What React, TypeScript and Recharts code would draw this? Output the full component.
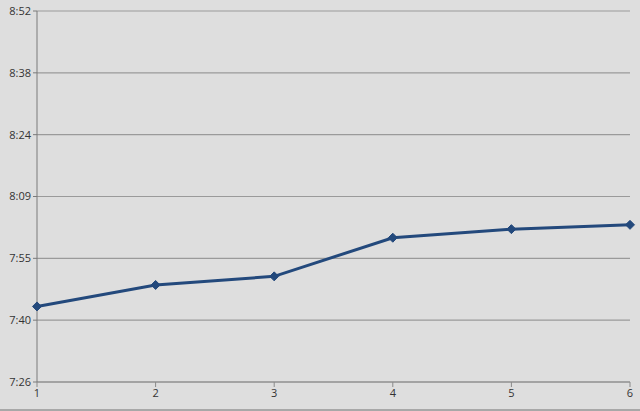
import React from 'react'
import { LineChart, Line, XAxis, YAxis, CartesianGrid } from 'recharts'

// x categories (run number) and times, stored as minutes after midnight
const runs = [1, 2, 3, 4, 5, 6]
const minutes = [464, 469, 471, 480, 482, 483]

// Excel-style time ticks: 0.31 .. 0.37 of a day
const tickDays = [0.31, 0.32, 0.33, 0.34, 0.35, 0.36, 0.37]
const yTicks = tickDays.map((d) => d * 1440)

const data = runs.map((r, i) => ({ run: r, time: minutes[i] }))

const fmtTime = (m: number) => {
  const total = Math.floor(m + 1e-6)
  const h = Math.floor(total / 60)
  const mm = total % 60
  return `${h}:${mm.toString().padStart(2, '0')}`
}

const LINE = '#23497c'

function Diamond(props: any) {
  const { cx, cy } = props
  if (cx == null || cy == null) return null
  const r = 4.5
  return (
    <path
      d={`M${cx},${cy - r} L${cx + r},${cy} L${cx},${cy + r} L${cx - r},${cy} Z`}
      fill={LINE}
      stroke={LINE}
    />
  )
}

export default function App() {
  return (
    <div
      style={{
        position: 'fixed',
        top: 0,
        left: 0,
        width: 640,
        height: 411,
        background: '#dedede',
        borderBottom: '2px solid #a8a8a8',
        boxSizing: 'border-box',
        fontFamily: '"Open Sans", "Liberation Sans", sans-serif',
      }}
    >
      <LineChart
        width={640}
        height={409}
        data={data}
        margin={{ top: 11, right: 10, bottom: 6, left: 0 }}
      >
        <CartesianGrid vertical={false} stroke="#9a9a9a" strokeWidth={1.2} />
        <XAxis
          dataKey="run"
          type="number"
          domain={[1, 6]}
          ticks={runs}
          stroke="#8a8a8a"
          tickSize={5}
          tick={{ fill: '#333', fontSize: 11 }}
          height={21}
        />
        <YAxis
          type="number"
          domain={[yTicks[0], yTicks[yTicks.length - 1]]}
          ticks={yTicks}
          tickFormatter={fmtTime}
          stroke="#7a7a7a"
          tickSize={4}
          width={37}
          tick={{ fill: '#333', fontSize: 11 }}
        />
        <Line
          type="linear"
          dataKey="time"
          stroke={LINE}
          strokeWidth={3}
          dot={<Diamond />}
          isAnimationActive={false}
        />
      </LineChart>
    </div>
  )
}
